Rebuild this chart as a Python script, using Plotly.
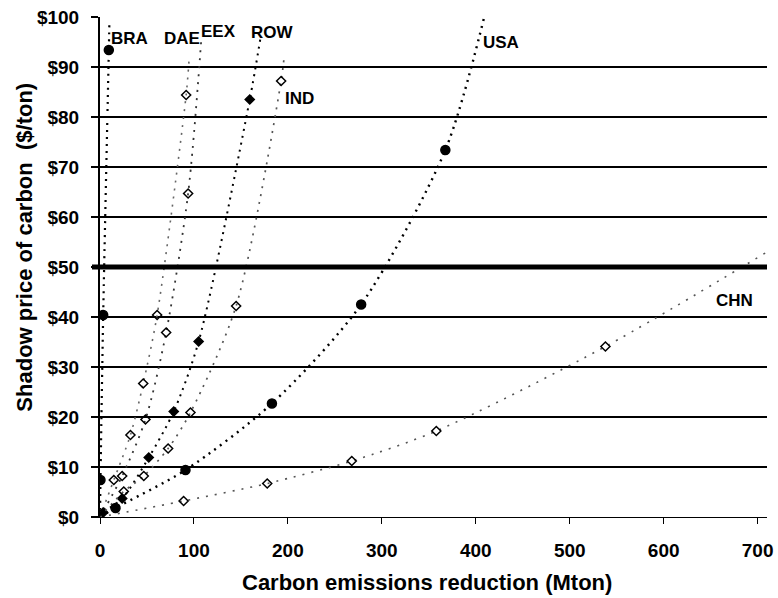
import plotly.graph_objects as go

# ---- data (x = Mton reduction, y = $/ton) ----
regions = ["BRA", "DAE", "EEX", "ROW", "IND", "USA", "CHN"]

bra_x = [0.5, 3.4, 9.4]
bra_y = [7.4, 40.4, 93.4]
dae_x = [14.7, 32.4, 46.0, 60.8, 91.7]
dae_y = [7.4, 16.4, 26.7, 40.4, 84.4]
eex_x = [23.6, 48.4, 70.4, 93.8]
eex_y = [8.2, 19.5, 36.9, 64.7]
row_x = [3.4, 23.6, 51.9, 78.5, 105.0, 159.4]
row_y = [0.9, 3.7, 11.9, 21.1, 35.1, 83.5]
ind_x = [25.3, 46.6, 72.5, 96.3, 144.9, 192.8]
ind_y = [5.1, 8.2, 13.7, 20.9, 42.2, 87.2]
usa_x = [16.5, 91.0, 183.0, 278.0, 367.6]
usa_y = [1.8, 9.4, 22.7, 42.5, 73.4]
chn_x = [89.0, 178.0, 268.0, 358.0, 538.0]
chn_y = [3.2, 6.7, 11.2, 17.2, 34.1]

# where each dotted curve leaves the picture / ends
curve_end_x = [10.0, 95.0, 108.0, 171.0, 196.0, 409.0, 710.0]
curve_end_y = [99.0, 92.0, 96.0, 96.0, 92.0, 100.0, 53.0]

label_x = [31.0, 87.0, 126.6, 183.5, 212.0, 427.0, 675.0]
label_y = [95.7, 95.7, 97.1, 97.0, 83.7, 95.0, 43.4]

x_ticks = [0, 100, 200, 300, 400, 500, 600, 700]
y_ticks = [0, 10, 20, 30, 40, 50, 60, 70, 80, 90, 100]
threshold_price = 50

series_x = [bra_x, dae_x, eex_x, row_x, ind_x, usa_x, chn_x]
series_y = [bra_y, dae_y, eex_y, row_y, ind_y, usa_y, chn_y]

# ---- styles ----
FONT = "Liberation Sans, Arial, sans-serif"
styles = {
    "BRA": dict(color="black", lw=2.2, dash="2px,5px", sym="circle", size=9),
    "DAE": dict(color="#666", lw=1.6, dash="2px,6px", sym="diamond-open", size=7),
    "EEX": dict(color="#333", lw=1.8, dash="2px,6px", sym="diamond-open", size=7),
    "ROW": dict(color="black", lw=2.0, dash="2px,5px", sym="diamond", size=7),
    "IND": dict(color="#555", lw=1.7, dash="2px,6px", sym="diamond-open", size=7),
    "USA": dict(color="black", lw=2.4, dash="2px,5px", sym="circle", size=9),
    "CHN": dict(color="#555", lw=1.6, dash="2px,7px", sym="diamond-open", size=7),
}

fig = go.Figure()

for i, name in enumerate(regions):
    st = styles[name]
    xs = [0] + series_x[i] + [curve_end_x[i]]
    ys = [0] + series_y[i] + [curve_end_y[i]]
    fig.add_trace(go.Scatter(
        x=xs, y=ys, mode="lines",
        line=dict(color=st["color"], width=st["lw"], dash=st["dash"], shape="spline", smoothing=0.8),
        showlegend=False, hoverinfo="skip"))
    fig.add_trace(go.Scatter(
        x=series_x[i], y=series_y[i], mode="markers", name=name,
        marker=dict(symbol=st["sym"], size=st["size"], color="black",
                    line=dict(color="black", width=1.5)),
        showlegend=False))

for i, name in enumerate(regions):
    fig.add_annotation(x=label_x[i], y=label_y[i], text=name, showarrow=False,
                       font=dict(family=FONT, size=17, color="black", weight="bold"),
                       xanchor="center", yanchor="middle")

# thick threshold line
fig.add_shape(type="line", xref="paper", yref="y", x0=-0.012, x1=1.0,
              y0=threshold_price, y1=threshold_price,
              line=dict(color="black", width=5), layer="above")

# axis titles
fig.add_annotation(xref="paper", yref="paper", x=-0.113, y=0.54,
                   text="Shadow price of carbon  ($/ton)", textangle=-90,
                   showarrow=False, xanchor="center", yanchor="middle",
                   font=dict(family=FONT, size=22, color="black", weight="bold"))
fig.add_annotation(xref="paper", yref="paper", x=0.49, y=-0.13,
                   text="Carbon emissions reduction (Mton)",
                   showarrow=False, xanchor="center", yanchor="middle",
                   font=dict(family=FONT, size=22, color="black", weight="bold"))

fig.update_layout(
    width=778, height=598,
    margin=dict(l=100, r=11, t=17, b=81),
    paper_bgcolor="white", plot_bgcolor="white",
    font=dict(family=FONT, color="black"),
)
fig.update_xaxes(
    range=[0, 710], tickvals=x_ticks, ticktext=[str(v) for v in x_ticks],
    showgrid=False, zeroline=False, automargin=False,
    showline=True, linecolor="black", linewidth=1,
    ticks="outside", ticklen=6, tickwidth=1, tickcolor="black",
    ticklabelstandoff=10,
    tickfont=dict(family=FONT, size=19, color="black", weight="bold"),
)
fig.update_yaxes(
    range=[0, 100], tickvals=y_ticks, ticktext=["$" + str(v) for v in y_ticks],
    showgrid=True, gridcolor="black", gridwidth=1.5,
    zeroline=False, automargin=False,
    showline=True, linecolor="black", linewidth=2,
    ticks="outside", ticklen=7, tickwidth=1.5, tickcolor="black",
    ticklabelstandoff=8,
    tickfont=dict(family=FONT, size=19, color="black", weight="bold"),
)

fig.write_html("out.html",
               config={"displayModeBar": False},
               post_script="document.body.style.margin='0';document.body.style.overflow='hidden';")
